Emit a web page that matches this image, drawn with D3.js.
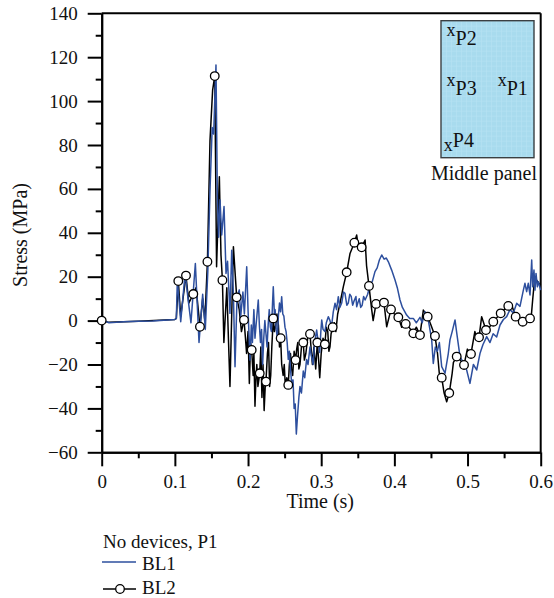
<!DOCTYPE html>
<html>
<head>
<meta charset="utf-8">
<script src="https://cdn.jsdelivr.net/npm/d3@7"></script>
<style>
  html, body { margin: 0; padding: 0; background: #fff; }
  svg { display: block; }
  text { font-family: "Liberation Serif", "Times New Roman", serif; fill: #111; }
</style>
</head>
<body>
<svg id="chart" width="554" height="598"></svg>
<script>
// Stress history at gauge P1 (no devices), two blast loads
// BL1: [time (s), stress (MPa)]
const bl1 = [
  [0,0],[0.005,-0.3],[0.01,-1],[0.02,-0.8],[0.03,-0.5],[0.05,-0.3],[0.07,-0.2],[0.09,0.3],[0.1,0.5],[0.102,1],
  [0.1034,18.5],[0.108,-0.5],[0.114,21.5],[0.118,10],[0.122,-1],[0.128,26],[0.133,-10],[0.138,12],[0.1416,-4],
  [0.145,22],[0.148,59],[0.151,88],[0.153,85],[0.1562,116.5],[0.158,58],[0.1598,38],[0.1617,55],[0.164,39],
  [0.1672,52],[0.1699,21.5],[0.172,27],[0.1753,3.3],[0.1777,32],[0.18,12],[0.1822,-21],[0.185,11],[0.188,14],
  [0.19,2],[0.193,13],[0.195,3],[0.1982,24.5],[0.2,5],[0.2027,-18],[0.2045,-2],[0.206,-10],[0.208,5],
  [0.2095,-8],[0.211,-2],[0.214,9.4],[0.2155,-2],[0.217,-10],[0.2185,-4],[0.22,-20],[0.2215,-8],[0.223,0],
  [0.2245,-6],[0.226,-12],[0.2275,-2],[0.229,5],[0.2305,-3],[0.232,-5],[0.2335,8],[0.2345,15.4],[0.236,3],
  [0.237,5],[0.2385,-4],[0.24,-8],[0.2415,2],[0.243,8],[0.2445,4],[0.246,10.9],[0.2475,3],[0.249,2],
  [0.2505,-3],[0.252,-5],[0.2535,-10],[0.255,-17.7],[0.2565,-14],[0.258,-22],[0.26,-30],[0.2615,-27],
  [0.263,-40],[0.2645,-38],[0.266,-51.7],[0.2675,-44],[0.2695,-35],[0.271,-30],[0.273,-33],[0.2755,-23],
  [0.2775,-26],[0.28,-17.7],[0.282,-20],[0.2847,-12],[0.2865,-16],[0.289,-20],[0.291,-10],[0.2938,-4.3],
  [0.296,-10],[0.298,-14.5],[0.2995,-5],[0.3007,0.3],[0.3025,-4],[0.305,-5],[0.307,-1],[0.3097,1.8],
  [0.312,0],[0.314,-3],[0.3165,4],[0.3189,7.9],[0.321,5],[0.3234,10.9],[0.3255,6],[0.328,8],[0.3305,13],
  [0.3325,12.4],[0.335,7],[0.337,8],[0.339,12],[0.341,11],[0.343,7],[0.345,9],[0.3475,11],[0.3485,6.3],
  [0.35,8],[0.352,10],[0.354,6],[0.356,7],[0.358,11],[0.36,9.4],[0.3635,12],[0.3667,16.2],[0.37,18],
  [0.3735,22.3],[0.3765,24],[0.3795,27.6],[0.3827,29.9],[0.386,28],[0.389,28.5],[0.3918,26.8],[0.3963,23],
  [0.4009,18.5],[0.404,15],[0.4077,9.4],[0.411,6],[0.4168,2.5],[0.421,1],[0.4259,1],[0.43,-1],[0.435,1.5],
  [0.438,-1],[0.4419,4],[0.446,1],[0.451,-8.8],[0.4532,-19.5],[0.456,-12],[0.4587,-14],[0.4615,-10],
  [0.4647,-21],[0.4692,-24],[0.4737,-15],[0.476,-8.8],[0.479,-5],[0.4829,0.3],[0.485,-5],[0.4897,-16.4],
  [0.494,-19],[0.4988,-22.5],[0.5033,-28.6],[0.508,-20],[0.5125,-22.5],[0.517,-15],[0.521,-11],[0.5262,-7.3],
  [0.5307,-10],[0.535,-6],[0.5398,-7.5],[0.5444,-2],[0.549,0.5],[0.5535,1.8],[0.558,5],[0.5626,3.5],
  [0.5672,7.9],[0.5717,6.5],[0.5763,13.9],[0.5785,17],[0.5808,13.2],[0.583,17],[0.5854,11.7],[0.5877,27.6],
  [0.589,15.4],[0.5908,23],[0.5922,13.9],[0.5936,21.5],[0.5954,15.4],[0.5968,17.7],[0.6,13.9]
];

// BL2: [time (s), stress (MPa)]
const bl2 = [
  [0,0],[0.01,-0.8],[0.05,-0.3],[0.1,0.5],[0.102,1],
  [0.1047,18],[0.108,2],[0.1152,20.5],[0.119,8],[0.1252,12.1],[0.129,15],[0.1343,-2.8],[0.138,10],[0.141,0],
  [0.1445,26.8],[0.148,82],[0.1516,105],[0.1545,111.4],[0.157,24.5],[0.1608,65.5],[0.163,30],[0.165,18.4],
  [0.167,-10],[0.171,15],[0.1753,-30],[0.18,33.7],[0.1845,10.6],[0.188,5],[0.191,-5],[0.1945,0.3],
  [0.1965,-8],[0.198,-15],[0.2,-5],[0.2018,-28.6],[0.2035,-10],[0.205,-13.4],[0.207,-25],[0.208,-15],
  [0.2095,-39],[0.211,-25],[0.212,-20],[0.2135,-30],[0.216,-24],[0.2175,-12],[0.219,-35],[0.2205,-20],
  [0.222,-41],[0.2235,-30],[0.2245,-27.8],[0.2265,-15],[0.228,-10],[0.2295,-30],[0.231,-25],[0.2325,-12],
  [0.2345,1],[0.236,-5],[0.238,-2],[0.2395,3],[0.2415,-2],[0.243,-12],[0.2446,-8],[0.246,-20],[0.248,-25],
  [0.2495,-20],[0.251,-30],[0.253,-26],[0.255,-29.3],[0.2565,-20],[0.258,-15],[0.2595,-22],[0.261,-25],
  [0.263,-14],[0.265,-18],[0.2665,-13],[0.268,-10],[0.2695,-22],[0.271,-20],[0.273,-12],[0.2755,-10],
  [0.277,-18],[0.279,-15],[0.2815,-8],[0.2847,-6.1],[0.2865,-14],[0.288,-20],[0.29,-12],[0.2925,-22],
  [0.2947,-10],[0.2965,-18],[0.298,-26],[0.3,-15],[0.3025,-8],[0.305,-10.8],[0.307,-3],[0.309,-5],
  [0.3105,-14],[0.312,-12],[0.3135,-6],[0.3157,-3],[0.318,-1],[0.32,-5],[0.3225,3],[0.3257,7.9],
  [0.3302,15.4],[0.3348,22],[0.3394,30.6],[0.3453,35.5],[0.3485,39],[0.351,33],[0.3553,33.4],[0.36,36.7],
  [0.362,25],[0.3653,15.8],[0.369,5],[0.371,0],[0.3749,7.6],[0.38,7],[0.3858,8.2],[0.3895,-2.8],[0.3954,5.1],
  [0.4,3],[0.4054,1.5],[0.41,-3],[0.4155,-1.5],[0.42,-3],[0.4259,-5.8],[0.43,-3],[0.435,-6.6],[0.4396,4.8],
  [0.4455,1.8],[0.45,-2],[0.4555,-7],[0.459,-15],[0.4614,-24],[0.4647,-26],[0.468,-33],[0.4715,-37],
  [0.475,-33],[0.479,-24],[0.4807,-19],[0.4852,-16.4],[0.49,-18],[0.4952,-20.2],[0.4998,-13],[0.5047,-15.2],
  [0.51,-5],[0.5125,-8],[0.5157,-7.6],[0.5193,1.8],[0.5252,-4.3],[0.53,-3],[0.5352,-0.5],[0.5453,3.3],
  [0.55,5],[0.5557,6.7],[0.56,7.5],[0.5658,1.8],[0.5754,-0.5],[0.5854,1],[0.587,1.5],[0.589,9.4],[0.592,20],
  [0.595,18],[0.6,16]
];

// Times at which BL2 carries an open-circle marker
const bl2MarkerTimes = [
  0,0.1047,0.1152,0.1252,0.1343,0.1445,0.1545,0.165,0.1845,0.1945,0.205,0.216,0.2245,0.2345,0.2446,
  0.255,0.265,0.2755,0.2847,0.2947,0.305,0.3157,0.3348,0.3453,0.3553,0.3653,0.3749,0.3858,0.3954,
  0.4054,0.4155,0.4259,0.435,0.4455,0.4555,0.4647,0.475,0.4852,0.4952,0.5047,0.5157,0.5252,0.5352,
  0.5453,0.5557,0.5658,0.5754,0.5854
];

const xMajorTicks = [0, 0.1, 0.2, 0.3, 0.4, 0.5, 0.6];
const xMinorTicks = [0.05, 0.15, 0.25, 0.35, 0.45, 0.55];
const yMajorTicks = [-60, -40, -20, 0, 20, 40, 60, 80, 100, 120, 140];
const yMinorTicks = [-50, -30, -10, 10, 30, 50, 70, 90, 110, 130];

// Gauge locations on the middle panel (relative position in panel, 0..1)
const gauges = [
  { name: "P2", u: 0.06, v: 0.18, low: false },
  { name: "P3", u: 0.06, v: 0.54, low: false },
  { name: "P1", u: 0.61, v: 0.54, low: false },
  { name: "P4", u: 0.03, v: 0.92, low: true }
];

const svg = d3.select("#chart");
const plotL = 101.7, plotR = 540.7, plotT = 13.3, plotB = 452.3;

const x = d3.scaleLinear().domain([0, 0.6]).range([plotL, plotR]);
const y = d3.scaleLinear().domain([-60, 140]).range([plotB, plotT]);

const BLUE = "#2d4f9e";

// frame: top and right edges
svg.append("line").attr("x1", plotL).attr("x2", plotR).attr("y1", plotT).attr("y2", plotT)
  .attr("stroke", "#000").attr("stroke-width", 2);
svg.append("line").attr("x1", plotR).attr("x2", plotR).attr("y1", plotT).attr("y2", plotB)
  .attr("stroke", "#000").attr("stroke-width", 2);

// axes
function styleAxis(g) {
  g.selectAll("path, line").attr("stroke", "#000").attr("stroke-width", 2);
  g.selectAll("text").style("font-family", '"Liberation Serif", serif').style("font-size", "19px").attr("fill", "#111");
}

const xAxisMinor = d3.axisBottom(x).tickValues(xMinorTicks).tickSize(6).tickSizeOuter(0).tickFormat("");
const xAxisMajor = d3.axisBottom(x).tickValues(xMajorTicks).tickSize(14).tickSizeOuter(0).tickPadding(8)
  .tickFormat(d => d === 0 ? "0" : d3.format(".1f")(d));
svg.append("g").attr("transform", `translate(0,${plotB})`).call(xAxisMinor).call(styleAxis);
svg.append("g").attr("transform", `translate(0,${plotB})`).call(xAxisMajor).call(styleAxis);

const yAxisMinor = d3.axisLeft(y).tickValues(yMinorTicks).tickSize(6).tickSizeOuter(0).tickFormat("");
const yAxisMajor = d3.axisLeft(y).tickValues(yMajorTicks).tickSize(14).tickSizeOuter(0).tickPadding(10)
  .tickFormat(d3.format(""));
svg.append("g").attr("transform", `translate(${plotL},0)`).call(yAxisMinor).call(styleAxis);
svg.append("g").attr("transform", `translate(${plotL},0)`).call(yAxisMajor).call(styleAxis);

// axis titles
svg.append("text").attr("x", (plotL + plotR) / 2 - 1).attr("y", 508)
  .attr("text-anchor", "middle").style("font-size", "20px").text("Time (s)");
svg.append("text").attr("transform", "translate(27,235) rotate(-90)")
  .attr("text-anchor", "middle").style("font-size", "20px").text("Stress (MPa)");

// series
const line = d3.line().x(d => x(d[0])).y(d => y(d[1]));
const plot = svg.append("g");
plot.append("path").datum(bl2).attr("d", line).attr("fill", "none")
  .attr("stroke", "#000").attr("stroke-width", 1.5).attr("stroke-linejoin", "round");
plot.append("path").datum(bl1).attr("d", line).attr("fill", "none")
  .attr("stroke", BLUE).attr("stroke-width", 1.5).attr("stroke-linejoin", "round");

// markers sit on the BL2 trace
const bis = d3.bisector(d => d[0]).left;
function bl2At(t) {
  const i = bis(bl2, t);
  if (i <= 0) return bl2[0][1];
  if (i >= bl2.length) return bl2[bl2.length - 1][1];
  const a = bl2[i - 1], b = bl2[i];
  if (b[0] === t) return b[1];
  return a[1] + (b[1] - a[1]) * (t - a[0]) / (b[0] - a[0]);
}
plot.selectAll("circle.m").data(bl2MarkerTimes).join("circle").attr("class", "m")
  .attr("cx", d => x(d)).attr("cy", d => y(bl2At(d))).attr("r", 4.3)
  .attr("fill", "#fff").attr("stroke", "#000").attr("stroke-width", 1.3);

// inset: middle panel with gauge positions
const ix = 441, iy = 20.7, iw = 93, ih = 137;
const defs = svg.append("defs");
const pat = defs.append("pattern").attr("id", "grid").attr("patternUnits", "userSpaceOnUse")
  .attr("x", ix).attr("y", iy).attr("width", 5).attr("height", 5);
pat.append("rect").attr("width", 5).attr("height", 5).attr("fill", "#a8dbee");
pat.append("path").attr("d", "M0,0.5H5M0.5,0V5").attr("stroke", "#b7e3f3").attr("stroke-width", 0.6);
svg.append("rect").attr("x", ix).attr("y", iy).attr("width", iw).attr("height", ih)
  .attr("fill", "url(#grid)").attr("stroke", "#3a3f42").attr("stroke-width", 1.4);

const gg = svg.append("g");
gauges.forEach(g => {
  const gx = ix + g.u * iw, gy = iy + g.v * ih;
  const t = gg.append("text").attr("x", gx).attr("y", gy).style("font-size", "20px");
  if (g.low) {
    t.append("tspan").style("font-size", "18px").attr("dy", 4).text("x");
    t.append("tspan").attr("dy", -4).text(g.name);
  } else {
    t.append("tspan").style("font-size", "18px").attr("dy", -9).text("x");
    t.append("tspan").attr("dy", 9).text(g.name);
  }
});
svg.append("text").attr("x", 537).attr("y", 180).attr("text-anchor", "end")
  .style("font-size", "20px").text("Middle panel");

// legend
const lg = svg.append("g");
lg.append("text").attr("x", 103).attr("y", 548).style("font-size", "19px").text("No devices, P1");
lg.append("line").attr("x1", 102).attr("x2", 136).attr("y1", 562).attr("y2", 562)
  .attr("stroke", BLUE).attr("stroke-width", 1.5);
lg.append("text").attr("x", 142).attr("y", 570).style("font-size", "19px").text("BL1");
lg.append("line").attr("x1", 103).attr("x2", 136).attr("y1", 589).attr("y2", 589)
  .attr("stroke", "#000").attr("stroke-width", 1.5);
lg.append("circle").attr("cx", 120).attr("cy", 589).attr("r", 4.3)
  .attr("fill", "#fff").attr("stroke", "#000").attr("stroke-width", 1.3);
lg.append("text").attr("x", 142).attr("y", 594).style("font-size", "19px").text("BL2");
</script>
</body>
</html>
